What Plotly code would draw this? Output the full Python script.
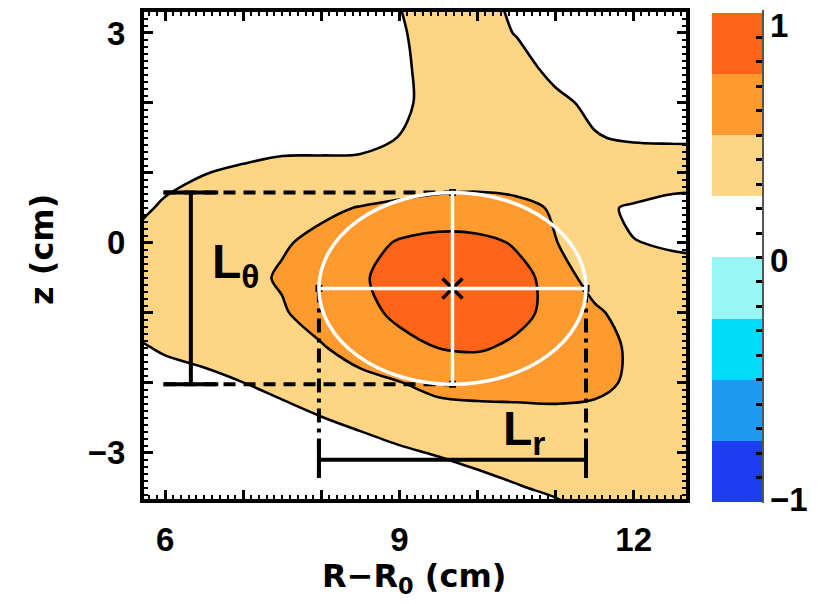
import plotly.graph_objects as go

# ---------------- data ----------------
R_cm = [5.5, 6.0, 6.5, 7.0, 7.5, 8.0, 8.5, 9.0, 9.5, 10.0, 10.5, 11.0, 11.5, 12.0, 12.5, 13.0]
Z_cm = [-4.0, -3.5, -3.0, -2.5, -2.0, -1.5, -1.0, -0.5, 0.0, 0.5, 1.0, 1.5, 2.0, 2.5, 3.0, 3.5]
amplitude = [
    [0.05, 0.05, 0.05, 0.05, 0.05, 0.06, 0.07, 0.08, 0.09, 0.10, 0.12, 0.15, 0.24, 0.30, 0.32, 0.32],
    [0.05, 0.05, 0.06, 0.06, 0.07, 0.08, 0.09, 0.10, 0.119, 0.163, 0.235, 0.289, 0.33, 0.34, 0.33, 0.32],
    [0.06, 0.06, 0.07, 0.08, 0.10, 0.12, 0.156, 0.219, 0.265, 0.33, 0.36, 0.37, 0.37, 0.36, 0.34, 0.33],
    [0.07, 0.08, 0.10, 0.13, 0.163, 0.245, 0.3075, 0.36, 0.40, 0.408, 0.42, 0.42, 0.41, 0.40, 0.36, 0.34],
    [0.10, 0.14, 0.18, 0.248, 0.33, 0.38, 0.43, 0.492, 0.57, 0.60, 0.60, 0.62, 0.58, 0.447, 0.38, 0.34],
    [0.192, 0.28, 0.34, 0.38, 0.42, 0.481, 0.60, 0.69, 0.751, 0.77, 0.717, 0.62, 0.56, 0.474, 0.40, 0.36],
    [0.32, 0.36, 0.40, 0.43, 0.478, 0.60, 0.69, 0.79, 0.97, 0.96, 0.80, 0.696, 0.56, 0.346, 0.30, 0.28],
    [0.30, 0.34, 0.38, 0.44, 0.523, 0.60, 0.718, 0.85, 0.95, 0.93, 0.80, 0.696, 0.346, 0.32, 0.30, 0.30],
    [0.271, 0.32, 0.37, 0.42, 0.48, 0.551, 0.65, 0.775, 0.82, 0.80, 0.734, 0.506, 0.40, 0.255, 0.235, 0.22],
    [0.165, 0.283, 0.33, 0.37, 0.41, 0.46, 0.51, 0.56, 0.60, 0.61, 0.57, 0.473, 0.30, 0.22, 0.15, 0.15],
    [0.12, 0.18, 0.245, 0.285, 0.335, 0.33, 0.309, 0.31, 0.35, 0.373, 0.358, 0.37, 0.40, 0.45, 0.40, 0.38],
    [0.10, 0.12, 0.14, 0.15, 0.16, 0.17, 0.20, 0.255, 0.36, 0.42, 0.42, 0.36, 0.264, 0.22, 0.22, 0.22],
    [0.10, 0.10, 0.10, 0.10, 0.10, 0.12, 0.14, 0.177, 0.38, 0.40, 0.36, 0.30, 0.20, 0.15, 0.15, 0.15],
    [0.10, 0.10, 0.10, 0.10, 0.10, 0.12, 0.14, 0.189, 0.38, 0.38, 0.33, 0.187, 0.12, 0.10, 0.10, 0.10],
    [0.10, 0.10, 0.10, 0.10, 0.10, 0.12, 0.15, 0.2225, 0.36, 0.34, 0.24, 0.14, 0.10, 0.10, 0.10, 0.10],
    [0.10, 0.10, 0.10, 0.10, 0.10, 0.12, 0.15, 0.255, 0.35, 0.32, 0.20, 0.12, 0.10, 0.10, 0.10, 0.10],
]

# colour bands of the colour bar (-1 .. 1 in steps of 0.25)
band_edges = [-1.0, -0.75, -0.5, -0.25, 0.0, 0.25, 0.5, 0.75, 1.0]
band_colors = ["#1E3CF0", "#1E9BF0", "#00DCF8", "#9AF5F5",
               "#FFFFFF", "#FED585", "#FF9A2E", "#FF6418"]
cb_label_values = [1, 0, -1]
cb_label_text = ["1", "0", "\u22121"]

# fitted blob (ellipse) parameters
blob_center_R = 9.68
blob_center_z = -0.65
L_r = 3.42
L_theta = 2.74
Ltheta_bar_R = 6.33
Ltheta_cap_R = [5.98, 6.68]
Lr_bar_z = -3.1
Lr_cap_z = [-2.81, -3.36]

x_ticks = [6, 7, 8, 9, 10, 11, 12]
x_ticktext = ["6", "", "", "9", "", "", "12"]
y_ticks = [-3, -2, -1, 0, 1, 2, 3]
y_ticktext = ["\u22123", "", "", "0", "", "", "3"]
cb_ticks = [round(-1 + 0.1 * i, 1) for i in range(21)]

NUM_FONT = "Liberation Sans"
TXT_FONT = "DejaVu Sans"

# plot-area geometry (pixels)
PL, PR, PT, PB = 144, 686, 12, 499
PW, PH = PR - PL, PB - PT


def px_to_paper_x(px):
    return (px - PL) / PW


def px_to_paper_y(py):
    return (PB - py) / PH


CB_LEFT, CB_RIGHT, CB_TOP, CB_BOT = 712, 762, 13, 502

# ---------------- figure ----------------
fig = go.Figure()

pos_colors = band_colors[4:]
fig.add_trace(go.Contour(
    x=R_cm, y=Z_cm, z=amplitude,
    autocontour=False,
    contours=dict(start=0.25, end=0.75, size=0.25, coloring="fill"),
    colorscale=[[0.0, pos_colors[0]], [1 / 3, pos_colors[1]], [2 / 3, pos_colors[2]], [1.0, pos_colors[3]]],
    showscale=False,
    line=dict(color="black", width=2.6, smoothing=0.9),
    hoverinfo="skip",
))

# stepped colour scale for the colour bar
lo, hi = band_edges[0], band_edges[-1]
stepped = []
for i, c in enumerate(band_colors):
    stepped.append([(band_edges[i] - lo) / (hi - lo), c])
    stepped.append([(band_edges[i + 1] - lo) / (hi - lo), c])

fig.add_trace(go.Scatter(
    x=[None], y=[None], mode="markers", hoverinfo="skip", showlegend=False,
    marker=dict(color=[0], cmin=lo, cmax=hi, colorscale=stepped, showscale=True,
                colorbar=dict(
                    thickness=CB_RIGHT - CB_LEFT, thicknessmode="pixels",
                    len=CB_BOT - CB_TOP, lenmode="pixels",
                    x=px_to_paper_x(CB_LEFT), xanchor="left", xpad=0,
                    y=px_to_paper_y((CB_TOP + CB_BOT) / 2), yanchor="middle", ypad=0,
                    outlinewidth=0,
                    tickmode="array", tickvals=cb_ticks, ticktext=[""] * len(cb_ticks),
                    ticks="inside", ticklen=6, tickwidth=2.5, tickcolor="black",
                    tickfont=dict(family=NUM_FONT, size=10, color="black"),
                )),
))

# ellipse and its axes
a = L_r / 2
b = L_theta / 2
x_left, x_right = blob_center_R - a, blob_center_R + a
z_top, z_bot = blob_center_z + b, blob_center_z - b

shapes = []
for zz in (z_top, z_bot):
    shapes.append(dict(type="line", xref="x", yref="y", x0=Ltheta_cap_R[0], x1=blob_center_R, y0=zz, y1=zz,
                       line=dict(color="black", width=4, dash="12px,8px")))
for xx in (x_left, x_right):
    shapes.append(dict(type="line", xref="x", yref="y", x0=xx, x1=xx, y0=blob_center_z, y1=Lr_cap_z[1],
                       line=dict(color="black", width=4, dash="14px,6px,4px,6px")))
shapes.append(dict(type="line", xref="x", yref="y", x0=Ltheta_bar_R, x1=Ltheta_bar_R, y0=z_bot, y1=z_top,
                   line=dict(color="black", width=4)))
for zz in (z_top, z_bot):
    shapes.append(dict(type="line", xref="x", yref="y", x0=Ltheta_cap_R[0], x1=Ltheta_cap_R[1], y0=zz, y1=zz,
                       line=dict(color="black", width=4)))
shapes.append(dict(type="line", xref="x", yref="y", x0=x_left, x1=x_right, y0=Lr_bar_z, y1=Lr_bar_z,
                   line=dict(color="black", width=4)))
for xx in (x_left, x_right):
    shapes.append(dict(type="line", xref="x", yref="y", x0=xx, x1=xx, y0=Lr_cap_z[0], y1=Lr_cap_z[1],
                       line=dict(color="black", width=4)))
shapes.append(dict(type="circle", xref="x", yref="y", x0=x_left, x1=x_right, y0=z_bot, y1=z_top,
                   line=dict(color="white", width=3.5)))
shapes.append(dict(type="line", xref="x", yref="y", x0=x_left, x1=x_right, y0=blob_center_z, y1=blob_center_z,
                   line=dict(color="white", width=3.5)))
shapes.append(dict(type="line", xref="x", yref="y", x0=blob_center_R, x1=blob_center_R, y0=z_bot, y1=z_top,
                   line=dict(color="white", width=3.5)))
# colour bar right edge
shapes.append(dict(type="line", xref="paper", yref="paper",
                   x0=px_to_paper_x(CB_RIGHT + 1), x1=px_to_paper_x(CB_RIGHT + 1),
                   y0=px_to_paper_y(CB_BOT + 1), y1=px_to_paper_y(CB_TOP - 3),
                   line=dict(color="#555555", width=2)))

fig.add_trace(go.Scatter(
    x=[x_left, x_right, blob_center_R, blob_center_R], y=[blob_center_z, blob_center_z, z_top, z_bot],
    mode="markers", marker=dict(symbol="square", size=7, color="black"),
    hoverinfo="skip", showlegend=False))
fig.add_trace(go.Scatter(
    x=[blob_center_R], y=[blob_center_z], mode="markers",
    marker=dict(symbol="x-thin", size=20, line=dict(color="black", width=3.5)),
    hoverinfo="skip", showlegend=False))

num_font = dict(family=NUM_FONT, size=33, color="black", weight="bold")
title_font = dict(family=TXT_FONT, size=32, color="black", weight="bold")
annotations = [
    dict(x=6.9, y=-0.31, xref="x", yref="y", text="L<sub>\u03b8</sub>", showarrow=False,
         xanchor="center", yanchor="middle",
         font=dict(family=NUM_FONT, size=48, color="black", weight="bold")),
    dict(x=10.6, y=-2.7, xref="x", yref="y", text="L<sub>r</sub>", showarrow=False,
         xanchor="center", yanchor="middle",
         font=dict(family=NUM_FONT, size=48, color="black", weight="bold")),
    dict(x=px_to_paper_x(414), y=px_to_paper_y(578), xref="paper", yref="paper",
         text="R\u2212R<sub>0</sub> (cm)", showarrow=False, xanchor="center", yanchor="middle",
         font=title_font),
    dict(x=px_to_paper_x(42), y=px_to_paper_y(250), xref="paper", yref="paper", text="z (cm)",
         textangle=-90, showarrow=False, xanchor="center", yanchor="middle", font=title_font),
]
# colour-bar labels (placed next to the bar)
cb_label_y_px = [25, 260, 499]
for v, t, ypx in zip(cb_label_values, cb_label_text, cb_label_y_px):
    annotations.append(dict(x=px_to_paper_x(768), y=px_to_paper_y(ypx), xref="paper", yref="paper",
                            text=t, showarrow=False, xanchor="left", yanchor="middle", font=num_font))

axis_common = dict(
    ticks="inside", ticklen=9, tickwidth=2.5, tickcolor="black",
    showline=True, linewidth=4, linecolor="black", mirror="ticks",
    showgrid=False, zeroline=False, tickmode="array",
    tickfont=num_font,
    minor=dict(ticks="inside", ticklen=4, tickwidth=1.5, tickcolor="black", dtick=0.1, tick0=0, showgrid=False),
)

fig.update_layout(
    width=819, height=604,
    margin=dict(l=PL, r=819 - PR, t=PT, b=604 - PB, autoexpand=False),
    paper_bgcolor="white", plot_bgcolor="white",
    showlegend=False,
    shapes=shapes, annotations=annotations,
    xaxis=dict(range=[5.73, 12.67], tickvals=x_ticks, ticktext=x_ticktext, ticklabelstandoff=8, **axis_common),
    yaxis=dict(range=[-3.66, 3.30], tickvals=y_ticks, ticktext=y_ticktext, ticklabelstandoff=8, **axis_common),
)

fig.write_html("out.html", config={"displayModeBar": False},
               post_script="document.body.style.margin='0px';")
